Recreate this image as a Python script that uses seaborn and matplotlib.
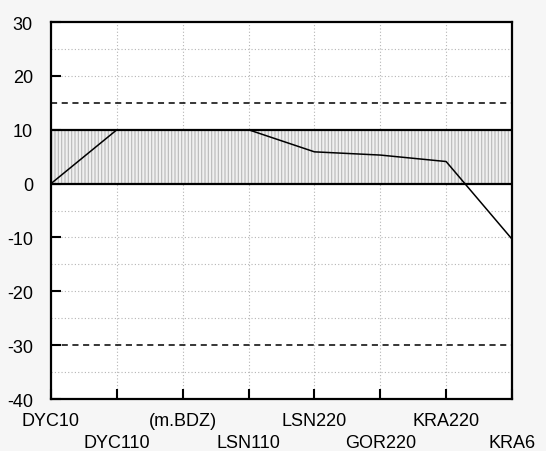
import matplotlib.pyplot as plt
import seaborn as sns
import pandas as pd

stations = ["DYC10", "DYC110", "(m.BDZ)", "LSN110", "LSN220", "GOR220", "KRA220", "KRA6"]
deviation = [0, 10, 10, 10, 5.9, 5.3, 4.1, -10.3]
band = (0, 10)
limits = [15, -30]

df = pd.DataFrame({"pos": range(len(stations)), "dev": deviation})

sns.set_style("white")
plt.rcParams["font.family"] = ["Liberation Sans", "DejaVu Sans"]
plt.rcParams["hatch.linewidth"] = 0.8
plt.rcParams["axes.unicode_minus"] = False

fig = plt.figure(figsize=(5.46, 4.52), dpi=100, facecolor="#f6f6f6")
ax = fig.add_axes([0.0934, 0.115, 0.8443, 0.834])
ax.set_facecolor("white")

# tolerance band
ax.fill_between([0, len(stations) - 1], band[0], band[1], facecolor="#f0f0f0",
                edgecolor="#b8b8b8", hatch="|||||", linewidth=0)
for b in band:
    ax.axhline(b, color="black", lw=1.6)
for lim in limits:
    ax.axhline(lim, color="black", lw=1.1, ls=(0, (4, 3)))

# dotted grid
for y in range(-35, 30, 5):
    if y not in band and y not in limits:
        ax.axhline(y, color="#b5b5b5", lw=0.8, ls=(0, (1, 2)), zorder=0.5)
for x in range(1, len(stations) - 1):
    ax.axvline(x, color="#b5b5b5", lw=0.8, ls=(0, (1, 2)), zorder=0.5)

sns.lineplot(data=df, x="pos", y="dev", color="black", lw=1.1, ax=ax)

ax.set_xlim(0, len(stations) - 1)
ax.set_ylim(-40, 30)
ax.set_yticks(range(-40, 31, 10))
ax.set_xticks(range(len(stations)))
ax.set_xticklabels([s if i % 2 == 0 else "\n" + s for i, s in enumerate(stations)],
                   fontsize=13, linespacing=1.45)
ax.tick_params(axis="both", direction="in", length=7, width=1.5, labelsize=13,
               colors="black", left=True, bottom=True)
ax.tick_params(axis="x", labelsize=13, pad=9)
ax.tick_params(axis="y", pad=13)
ax.set_xlabel("")
ax.set_ylabel("")
for s in ax.spines.values():
    s.set_color("black")
    s.set_linewidth(1.6)

plt.savefig("out.png", dpi=100, facecolor=fig.get_facecolor())
